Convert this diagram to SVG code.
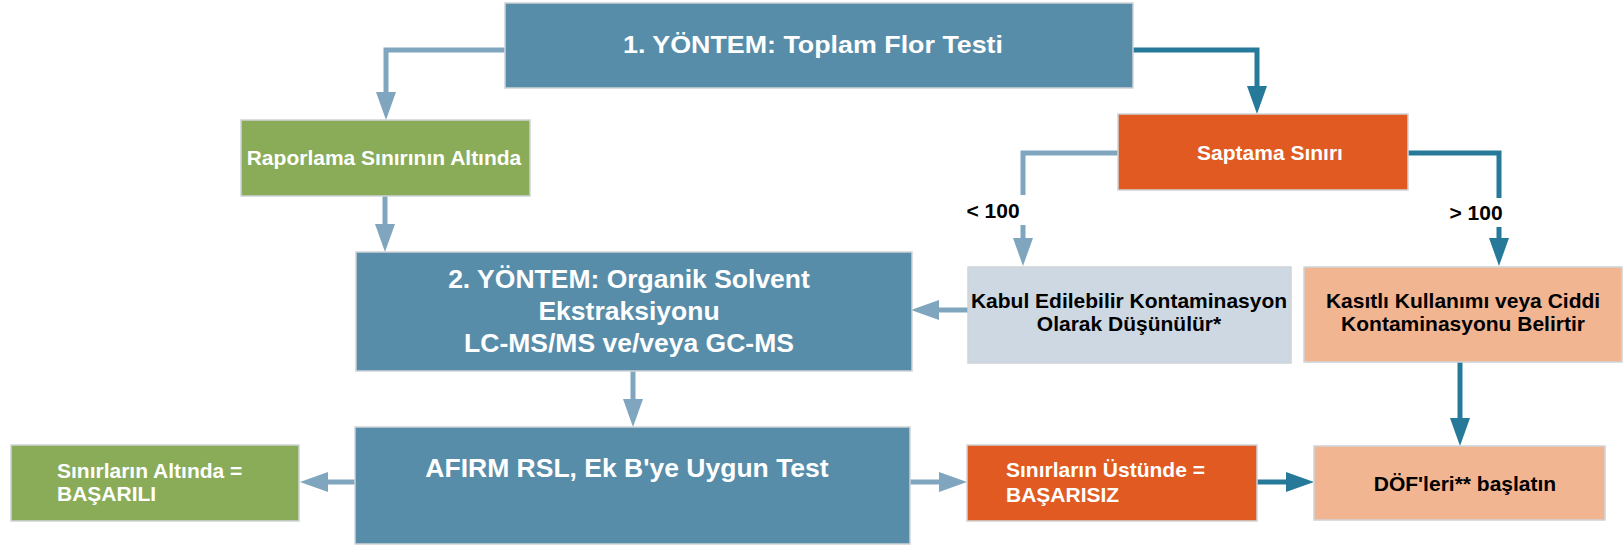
<svg xmlns="http://www.w3.org/2000/svg" width="1623" height="546" viewBox="0 0 1623 546">
<style>
.box{stroke:#cfd4d8;stroke-width:1.5}
.blue{fill:#588DAA}
.green{fill:#8AAC58}
.orange{fill:#E05A22}
.peach{fill:#F2B592}
.grey{fill:#CDD8E2}
.t{font-family:"Liberation Sans",Arial,sans-serif;font-weight:bold}
.w{fill:#ffffff}
.k{fill:#000000}
.cl{fill:none;stroke:#7FA5BF;stroke-width:5}
.cd{fill:none;stroke:#27799A;stroke-width:5}
</style>
<defs>
<marker id="al" markerUnits="userSpaceOnUse" markerWidth="28" markerHeight="20" refX="0" refY="10" orient="auto" overflow="visible"><path d="M0,0 L28,10 L0,20 Z" fill="#7FA5BF"/></marker>
<marker id="ad" markerUnits="userSpaceOnUse" markerWidth="28" markerHeight="20" refX="0" refY="10" orient="auto" overflow="visible"><path d="M0,0 L28,10 L0,20 Z" fill="#27799A"/></marker>
</defs>
<g id="connectors">
<path class="cl" d="M505,50 H386 V92" marker-end="url(#al)"/>
<path class="cd" d="M1133,50 H1257 V86" marker-end="url(#ad)"/>
<path class="cl" d="M385,196 V224" marker-end="url(#al)"/>
<path class="cl" d="M1118,153 H1023 V195"/>
<path class="cl" d="M1023,225 V238" marker-end="url(#al)"/>
<path class="cd" d="M1408,153 H1499 V198"/>
<path class="cd" d="M1499,227 V238" marker-end="url(#ad)"/>
<path class="cl" d="M968,310 H939" marker-end="url(#al)"/>
<path class="cl" d="M633,371 V399" marker-end="url(#al)"/>
<path class="cd" d="M1460,362 V418" marker-end="url(#ad)"/>
<path class="cl" d="M355,482 H328" marker-end="url(#al)"/>
<path class="cl" d="M910,482 H939" marker-end="url(#al)"/>
<path class="cd" d="M1257,482 H1286" marker-end="url(#ad)"/>
<text class="t k" x="993" y="218" font-size="21" text-anchor="middle">&lt; 100</text>
<text class="t k" x="1476" y="220" font-size="21" text-anchor="middle">&gt; 100</text>
</g>
<g id="n1">
<rect class="box blue" x="505" y="3" width="628" height="85"/>
<text class="t w" x="813" y="53" font-size="24" text-anchor="middle" textLength="380" lengthAdjust="spacingAndGlyphs">1. YÖNTEM: Toplam Flor Testi</text>
</g>
<g id="n2">
<rect class="box green" x="241" y="120" width="289" height="76"/>
<text class="t w" x="384" y="165" font-size="21" text-anchor="middle">Raporlama Sınırının Altında</text>
</g>
<g id="n3">
<rect class="box orange" x="1118" y="114" width="290" height="76"/>
<text class="t w" x="1270" y="160" font-size="21" text-anchor="middle">Saptama Sınırı</text>
</g>
<g id="n4">
<rect class="box blue" x="356" y="252" width="556" height="119"/>
<text class="t w" font-size="26.5" text-anchor="middle"><tspan x="629" y="288">2. YÖNTEM: Organik Solvent</tspan><tspan x="629" y="320">Ekstraksiyonu</tspan><tspan x="629" y="352">LC-MS/MS ve/veya GC-MS</tspan></text>
</g>
<g id="n5">
<rect class="box grey" x="968" y="267" width="323" height="96"/>
<text class="t k" font-size="21" text-anchor="middle"><tspan x="1129" y="308">Kabul Edilebilir Kontaminasyon</tspan><tspan x="1129" y="331">Olarak Düşünülür*</tspan></text>
</g>
<g id="n6">
<rect class="box peach" x="1304" y="267" width="318" height="95"/>
<text class="t k" font-size="21" text-anchor="middle"><tspan x="1463" y="308">Kasıtlı Kullanımı veya Ciddi</tspan><tspan x="1463" y="331">Kontaminasyonu Belirtir</tspan></text>
</g>
<g id="n7">
<rect class="box blue" x="355" y="427" width="555" height="117"/>
<text class="t w" x="627" y="477" font-size="26.5" text-anchor="middle">AFIRM RSL, Ek B'ye Uygun Test</text>
</g>
<g id="n8">
<rect class="box green" x="11" y="445" width="288" height="76"/>
<text class="t w" font-size="21"><tspan x="57" y="478">Sınırların Altında =</tspan><tspan x="57" y="501">BAŞARILI</tspan></text>
</g>
<g id="n9">
<rect class="box orange" x="967" y="445" width="290" height="76"/>
<text class="t w" font-size="21"><tspan x="1006" y="477">Sınırların Üstünde =</tspan><tspan x="1006" y="502">BAŞARISIZ</tspan></text>
</g>
<g id="n10">
<rect class="box peach" x="1314" y="446" width="291" height="74"/>
<text class="t k" x="1465" y="491" font-size="21" text-anchor="middle">DÖF'leri** başlatın</text>
</g>
</svg>
